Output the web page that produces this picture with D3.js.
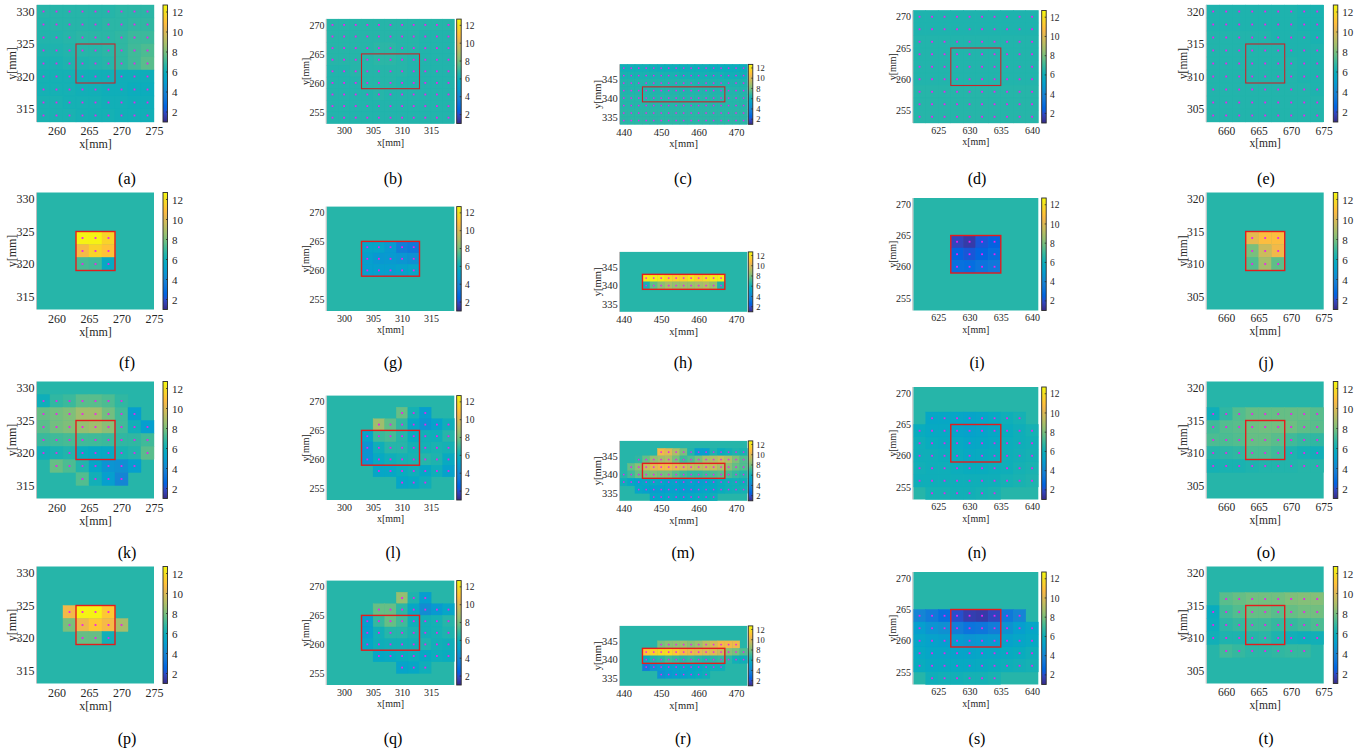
<!DOCTYPE html>
<html>
<head>
<meta charset="utf-8">
<script src="https://cdn.jsdelivr.net/npm/d3@7/dist/d3.min.js"></script>
<style>
  html,body{margin:0;padding:0;background:#ffffff;}
  svg{display:block;}
  svg text{font-family:'Liberation Serif','Times New Roman',serif;}
</style>
</head>
<body>
<svg id="chart" width="1369" height="753"></svg>
<script>
// ================= DATA =================
const panelLabels = ["(a)","(b)","(c)","(d)","(e)","(f)","(g)","(h)","(i)","(j)",
                     "(k)","(l)","(m)","(n)","(o)","(p)","(q)","(r)","(s)","(t)"];
const colorDomain = [1, 12.7];
const colorbarTicks = [2, 4, 6, 8, 10, 12];
const fillLevel = 6.6;               // value shown where no measurement exists
const axisXLabel = "x[mm]";
const axisYLabel = "y[mm]";

// axis extents (mm) for the five columns
const xDomains = [[257, 275], [297, 319], [439, 473], [621, 641], [657, 675]];
const yDomains = [[313, 331], [253, 271], [333, 349], [253, 271], [303, 321]];
const xTickValues = [[260, 265, 270, 275], [300, 305, 310, 315], [440, 450, 460, 470], [625, 630, 635, 640], [660, 665, 670, 675]];
const yTickValues = [[315, 320, 325, 330], [255, 260, 265, 270], [335, 340, 345], [255, 260, 265, 270], [305, 310, 315, 320]];
// red target rectangles: [x0, x1, y0, y1] in mm
const targetRects = [[263, 269, 319, 325], [303, 313, 259, 265], [445, 467, 339, 343], [627, 635, 259, 265], [663, 669, 309, 315]];
const cellSize = 2; // mm

// each panel: rows of [y centre, first x centre, values...]
const panelA = [
  [330, 258, [6.6,6.6,6.6,6.6,6.6,6.6,6.7,6.7,6.7]],
  [328, 258, [6.5,6.6,6.6,6.6,6.6,6.7,6.7,6.8,6.8]],
  [326, 258, [6.5,6.5,6.6,6.7,6.7,6.7,6.8,7.0,7.0]],
  [324, 258, [6.4,6.4,6.5,6.6,6.6,6.7,6.8,7.1,7.3]],
  [322, 258, [6.3,6.3,6.4,6.4,6.5,6.6,6.8,7.1,7.5]],
  [320, 258, [6.2,6.2,6.2,6.1,6.1,6.1,6.0,6.0,6.0]],
  [318, 258, [6.2,6.2,6.2,6.1,6.1,6.0,6.0,5.9,5.9]],
  [316, 258, [6.3,6.3,6.2,6.2,6.2,6.1,6.1,6.0,6.0]],
  [314, 258, [6.3,6.3,6.3,6.2,6.2,6.2,6.1,6.1,6.1]]
];
const panelB = [
  [270, 298, [6.6,6.6,6.6,6.6,6.6,6.6,6.6,6.6,6.6,6.6,6.6]],
  [268, 298, [6.6,6.6,6.6,6.6,6.6,6.6,6.6,6.6,6.5,6.5,6.5]],
  [266, 298, [6.6,6.6,6.6,6.6,6.7,6.7,6.6,6.6,6.5,6.5,6.5]],
  [264, 298, [6.6,6.6,6.6,6.6,6.7,6.7,6.6,6.5,6.5,6.5,6.5]],
  [262, 298, [6.5,6.5,6.6,6.6,6.6,6.6,6.6,6.5,6.5,6.5,6.5]],
  [260, 298, [6.5,6.5,6.5,6.6,6.6,6.6,6.5,6.5,6.5,6.5,6.5]],
  [258, 298, [6.5,6.5,6.5,6.5,6.6,6.5,6.5,6.5,6.5,6.5,6.5]],
  [256, 298, [6.5,6.5,6.5,6.5,6.5,6.5,6.5,6.5,6.5,6.5,6.5]],
  [254, 298, [6.5,6.5,6.5,6.5,6.5,6.5,6.5,6.5,6.5,6.5,6.5]]
];
const panelC = [
  [348, 440, [6.1,6.1,6.1,6.1,6.1,6.0,6.0,6.0,6.0,6.0,6.0,6.0,5.9,5.9,5.9,5.9,5.9]],
  [346, 440, [6.3,6.3,6.3,6.3,6.3,6.3,6.3,6.3,6.2,6.2,6.2,6.2,6.2,6.2,6.1,6.1,6.1]],
  [344, 440, [6.5,6.5,6.5,6.5,6.5,6.5,6.5,6.5,6.5,6.5,6.4,6.4,6.4,6.4,6.4,6.4,6.4]],
  [342, 440, [6.5,6.5,6.5,6.5,6.5,6.5,6.5,6.5,6.5,6.5,6.5,6.5,6.5,6.5,6.5,6.5,6.5]],
  [340, 440, [6.6,6.6,6.6,6.6,6.6,6.6,6.6,6.6,6.6,6.6,6.6,6.6,6.6,6.6,6.6,6.6,6.6]],
  [338, 440, [6.6,6.6,6.6,6.6,6.6,6.6,6.6,6.6,6.6,6.6,6.6,6.6,6.6,6.6,6.6,6.6,6.6]],
  [336, 440, [6.7,6.7,6.7,6.7,6.7,6.7,6.7,6.7,6.7,6.7,6.7,6.7,6.7,6.7,6.7,6.7,6.7]],
  [334, 440, [6.7,6.7,6.7,6.7,6.7,6.7,6.7,6.7,6.7,6.7,6.7,6.7,6.7,6.7,6.7,6.7,6.7]]
];
const panelD = [
  [270, 622, [6.4,6.4,6.4,6.4,6.4,6.4,6.4,6.4,6.4,6.4]],
  [268, 622, [6.4,6.4,6.4,6.4,6.4,6.4,6.4,6.4,6.4,6.4]],
  [266, 622, [6.5,6.5,6.5,6.5,6.5,6.5,6.5,6.5,6.5,6.5]],
  [264, 622, [6.5,6.5,6.5,6.5,6.5,6.5,6.5,6.5,6.5,6.5]],
  [262, 622, [6.5,6.5,6.5,6.5,6.5,6.5,6.5,6.5,6.5,6.5]],
  [260, 622, [6.5,6.5,6.5,6.5,6.5,6.5,6.5,6.5,6.5,6.5]],
  [258, 622, [6.6,6.6,6.6,6.6,6.6,6.6,6.6,6.6,6.6,6.6]],
  [256, 622, [6.6,6.6,6.6,6.6,6.6,6.6,6.6,6.6,6.6,6.6]],
  [254, 622, [6.6,6.6,6.6,6.6,6.6,6.6,6.6,6.6,6.6,6.6]]
];
const panelE = [
  [320, 658, [6.4,6.4,6.4,6.4,6.4,6.4,6.4,6.3,6.3]],
  [318, 658, [6.4,6.4,6.4,6.4,6.4,6.4,6.4,6.3,6.3]],
  [316, 658, [6.5,6.5,6.5,6.5,6.5,6.4,6.4,6.4,6.3]],
  [314, 658, [6.5,6.5,6.5,6.5,6.5,6.5,6.4,6.4,6.4]],
  [312, 658, [6.5,6.5,6.5,6.5,6.5,6.5,6.5,6.4,6.4]],
  [310, 658, [6.5,6.5,6.5,6.5,6.5,6.5,6.5,6.4,6.4]],
  [308, 658, [6.5,6.5,6.5,6.5,6.5,6.5,6.5,6.5,6.4]],
  [306, 658, [6.5,6.5,6.5,6.5,6.5,6.5,6.5,6.5,6.5]],
  [304, 658, [6.5,6.5,6.5,6.5,6.5,6.5,6.5,6.5,6.5]]
];
const panelF = [
  [324, 264, [12.5,12.5,11.6]],
  [322, 264, [10.6,11.6,11.0]],
  [320, 264, [7.2,7.1,5.6]]
];
const panelG = [
  [264, 304, [5.3,5.3,4.8,3.6,3.4]],
  [262, 304, [5.0,4.7,4.8,4.6,4.4]],
  [260, 304, [5.0,5.0,5.0,5.2,5.4]]
];
const panelH = [
  [342, 446, [12.3,12.4,12.3,11.8,11.5,11.6,12.2,11.4,11.9,12.3,12.4]],
  [340, 446, [6.2,7.6,8.3,8.8,8.5,8.7,8.6,8.8,9.0,8.5,6.4]]
];
const panelI = [
  [264, 628, [1.8,1.5,2.2,2.5]],
  [262, 628, [2.5,2.2,2.6,2.9]],
  [260, 628, [3.0,2.9,3.2,3.4]]
];
const panelJ = [
  [314, 664, [10.2,10.8,10.8]],
  [312, 664, [8.0,9.6,10.5]],
  [310, 664, [7.4,8.8,7.6]]
];
const panelK = [
  [328, 258, [6.0,6.8,7.0,7.5,7.5,7.3,6.8]],
  [326, 258, [7.7,7.9,8.1,8.7,8.7,7.9,7.1,5.0]],
  [324, 258, [7.5,7.9,8.1,8.5,8.7,8.3,7.1,6.1,5.0]],
  [322, 258, [7.0,7.1,7.2,7.1,7.1,7.0,6.8,6.8,7.1]],
  [320, 258, [6.1,6.3,6.5,5.8,5.6,5.6,6.3,6.5,7.5]],
  [318, 260, [7.7,7.3,6.5,5.4,4.6,4.4,5.0]],
  [316, 264, [7.4,6.1,5.0,4.0]]
];
const panelL = [
  [268, 310, [7.7,6.2,5.0]],
  [266, 306, [8.7,7.6,6.8,5.5,4.6,5.2,6.0]],
  [264, 304, [5.3,7.0,7.2,6.6,5.8,6.1,6.0,6.6]],
  [262, 304, [4.6,6.0,6.6,6.6,6.2,6.2,6.3,6.2]],
  [260, 304, [4.6,5.6,6.0,6.2,6.3,6.6,6.4,5.7]],
  [258, 306, [5.4,5.5,5.8,6.0,5.5,6.0,5.2]],
  [256, 310, [5.4,5.6,6.0]]
];
const panelM = [
  [346, 450, [10.5,10.0,9.0,8.0,6.5,5.0,5.0,6.4,5.8,6.1,6.4,6.3]],
  [344, 444, [6.8,7.7,8.5,8.8,9.0,8.0,7.1,7.4,8.0,8.8,9.0,9.5,9.0,8.1,7.4]],
  [342, 442, [7.7,8.3,9.5,10.2,10.5,10.5,10.2,9.8,9.5,9.3,9.5,9.5,9.0,8.3,7.7,7.4]],
  [340, 440, [6.6,7.1,7.7,8.0,8.2,8.0,8.0,7.5,7.1,6.9,6.9,7.1,7.3,7.5,7.2,6.9,6.6]],
  [338, 440, [6.0,5.5,5.2,5.4,5.6,5.4,5.2,5.3,5.0,5.2,5.0,5.2,5.5,5.8,6.0,6.1,6.0]],
  [336, 444, [5.4,5.2,5.0,5.0,5.1,5.2,5.0,5.0,5.2,5.4,5.5,5.8,6.0,6.1,6.2]],
  [334, 448, [5.4,5.4,5.6,5.5,5.4,5.6,5.8,5.8,6.0]]
];
const panelN = [
  [266, 624, [5.5,5.5,5.4,5.3,5.4,5.6,6.0,6.2]],
  [264, 622, [5.8,5.6,5.6,5.3,5.2,5.3,5.5,5.8,6.0,6.2]],
  [262, 622, [6.0,5.8,5.7,5.6,5.4,5.5,5.6,5.9,6.0,6.1]],
  [260, 622, [6.0,6.0,5.9,5.8,5.6,5.7,5.8,6.0,6.1,6.2]],
  [258, 622, [6.1,6.0,6.0,5.9,5.8,5.8,5.9,6.0,6.2,6.3]],
  [256, 622, [6.0,6.0,6.0,6.0,6.0,6.0,6.0,6.2,6.3,6.4]],
  [254, 624, [6.2,6.2,6.1,6.1,6.2,6.3]]
];
const panelO = [
  [316, 658, [6.0,6.8,7.4,7.7,7.7,7.7,7.7,7.7,7.5]],
  [314, 658, [7.1,7.4,7.5,7.8,7.9,7.9,7.8,7.6,7.5]],
  [312, 658, [7.3,7.3,7.4,7.7,7.7,7.5,7.1,6.9,6.8]],
  [310, 658, [6.6,6.7,6.8,7.3,7.3,7.1,6.4,6.2,6.1]],
  [308, 658, [6.2,6.3,6.3,6.4,6.5,6.5,6.5,6.6,6.6]]
];
const panelP = [
  [324, 262, [10.5,12.5,12.5,11.2]],
  [322, 262, [8.0,10.4,11.2,10.6,8.8]],
  [320, 264, [7.7,7.7,6.1]]
];
const panelQ = [
  [268, 310, [8.5,6.4,5.0]],
  [266, 306, [7.7,7.7,6.7,5.5,4.3,4.8,5.4]],
  [264, 304, [5.0,6.9,7.7,7.1,6.0,6.1,6.2,6.6]],
  [262, 304, [5.0,6.1,6.6,6.6,6.3,6.1,6.2,6.4]],
  [260, 304, [5.4,6.0,6.1,6.1,6.1,6.4,6.1,6.0]],
  [258, 306, [5.5,5.6,5.8,5.9,5.6,5.9,5.8]],
  [256, 310, [5.3,5.5,6.0]]
];
const panelR = [
  [344, 450, [8.0,8.3,8.4,8.6,8.3,8.6,9.3,9.8,10.5,10.5,10.4]],
  [342, 446, [11.0,11.5,11.8,11.8,11.2,10.6,10.4,10.2,10.0,10.0,9.6,8.3,8.0,7.4]],
  [340, 446, [5.8,6.5,6.7,7.1,6.9,6.7,6.9,6.7,6.5,6.7,6.9,6.7,6.1,6.0]],
  [338, 446, [3.5,4.4,4.8,5.0,5.2,5.4,5.3,5.5,5.8,6.0,6.0]],
  [336, 450, [4.4,4.8,5.0,5.2,5.5,5.8,6.0]]
];
const panelS = [
  [264, 622, [4.0,3.5,3.0,2.0,1.6,1.5,1.8,3.4,4.0]],
  [262, 622, [5.0,4.6,4.4,3.6,3.2,3.3,3.6,4.5,5.0,5.4]],
  [260, 622, [5.4,5.2,5.0,4.8,4.6,4.7,4.8,5.2,5.4,5.6]],
  [258, 622, [5.6,5.4,5.4,5.3,5.3,5.4,5.5,5.7,5.8,6.0]],
  [256, 622, [5.8,5.6,5.6,5.6,5.6,5.7,5.8,6.0,6.1,6.2]],
  [254, 624, [6.0,6.1,6.1,6.2,6.2,6.3]]
];
const panelT = [
  [316, 660, [7.5,7.7,7.9,7.9,7.9,8.1,8.2,8.2]],
  [314, 658, [5.8,7.1,7.4,7.7,7.7,7.5,7.7,7.9,7.9]],
  [312, 658, [5.9,6.7,6.9,7.1,7.1,6.9,6.9,7.1,7.3]],
  [310, 658, [6.1,6.4,6.4,6.6,6.7,6.4,6.1,6.0,6.1]],
  [308, 660, [7.1,6.9,6.7,6.7,6.8,6.9,6.9]]
];
const panels = [panelA, panelB, panelC, panelD, panelE,
                panelF, panelG, panelH, panelI, panelJ,
                panelK, panelL, panelM, panelN, panelO,
                panelP, panelQ, panelR, panelS, panelT];

// parula colormap (64 entries)
const parulaTable = [
[0.2081,0.1663,0.5292],[0.2116,0.1898,0.5777],[0.2123,0.2138,0.6270],[0.2081,0.2386,0.6771],
[0.1959,0.2645,0.7279],[0.1707,0.2919,0.7792],[0.1253,0.3242,0.8303],[0.0591,0.3598,0.8683],
[0.0117,0.3875,0.8820],[0.0060,0.4086,0.8828],[0.0165,0.4266,0.8786],[0.0329,0.4430,0.8720],
[0.0498,0.4586,0.8641],[0.0629,0.4737,0.8554],[0.0723,0.4887,0.8467],[0.0779,0.5040,0.8384],
[0.0793,0.5200,0.8312],[0.0749,0.5375,0.8263],[0.0641,0.5570,0.8240],[0.0488,0.5772,0.8228],
[0.0343,0.5966,0.8199],[0.0265,0.6137,0.8135],[0.0239,0.6287,0.8038],[0.0231,0.6418,0.7913],
[0.0228,0.6535,0.7768],[0.0267,0.6642,0.7607],[0.0384,0.6743,0.7436],[0.0590,0.6838,0.7254],
[0.0843,0.6928,0.7062],[0.1133,0.7015,0.6859],[0.1453,0.7098,0.6646],[0.1801,0.7177,0.6424],
[0.2178,0.7250,0.6193],[0.2586,0.7317,0.5954],[0.3022,0.7376,0.5712],[0.3482,0.7424,0.5473],
[0.3953,0.7459,0.5244],[0.4420,0.7481,0.5033],[0.4871,0.7491,0.4840],[0.5300,0.7491,0.4661],
[0.5709,0.7485,0.4494],[0.6099,0.7473,0.4337],[0.6473,0.7456,0.4188],[0.6834,0.7435,0.4044],
[0.7184,0.7411,0.3905],[0.7525,0.7384,0.3768],[0.7858,0.7356,0.3633],[0.8185,0.7327,0.3498],
[0.8507,0.7299,0.3360],[0.8824,0.7274,0.3217],[0.9139,0.7258,0.3063],[0.9450,0.7261,0.2886],
[0.9739,0.7314,0.2666],[0.9938,0.7455,0.2403],[0.9990,0.7653,0.2164],[0.9955,0.7861,0.1967],
[0.9880,0.8066,0.1794],[0.9789,0.8271,0.1633],[0.9697,0.8481,0.1475],[0.9626,0.8705,0.1309],
[0.9589,0.8949,0.1132],[0.9598,0.9218,0.0948],[0.9661,0.9514,0.0755],[0.9763,0.9831,0.0538]
];

// ================= LAYOUT =================
const boxHeight = 117;
const layout = [
  {boxLeft: 33,     boxW: 125,   cbX: 163,    capX: 127,  dy: 0,   font: 12,   cbFont: 11},
  {boxLeft: 326.7,  boxW: 127.6, cbX: 456.7,  capX: 393,  dy: 1.5, font: 10,   cbFont: 9.5},
  {boxLeft: 620,    boxW: 127.3, cbX: 748.3,  capX: 683,  dy: 2.3, font: 10.5, cbFont: 8.5},
  {boxLeft: 913.3,  boxW: 125,   cbX: 1041.7, capX: 977,  dy: 1,   font: 10,   cbFont: 9.5},
  {boxLeft: 1202.7, boxW: 125,   cbX: 1333.3, capX: 1266, dy: 0,   font: 11.5, cbFont: 11}
];
const rowBottoms = [122, 309.5, 498.5, 683.5];
const captionY = [178, 362, 552, 738];
const textColor = "#262626";
const serif = "'Liberation Serif','Times New Roman',serif";

// ================= DRAW =================
const svg = d3.select("#chart");
const nStops = parulaTable.length;
const toRgb = c => d3.rgb(c[0] * 255, c[1] * 255, c[2] * 255);
const color = d3.scaleLinear()
  .domain(d3.range(nStops).map(i => colorDomain[0] + (colorDomain[1] - colorDomain[0]) * i / (nStops - 1)))
  .range(parulaTable.map(toRgb))
  .interpolate(d3.interpolateRgb)
  .clamp(true);

const defs = svg.append("defs");
const grad = defs.append("linearGradient").attr("id", "parulaGrad")
  .attr("x1", 0).attr("y1", 1).attr("x2", 0).attr("y2", 0);
parulaTable.forEach((c, i) => grad.append("stop")
  .attr("offset", i / (nStops - 1)).attr("stop-color", toRgb(c).formatHex()));

panels.forEach((data, idx) => {
  const row = Math.floor(idx / 5), col = idx % 5;
  const L = layout[col];
  const xd = xDomains[col], yd = yDomains[col];
  const s = Math.min(L.boxW / (xd[1] - xd[0]), boxHeight / (yd[1] - yd[0]));
  const w = s * (xd[1] - xd[0]), h = s * (yd[1] - yd[0]);
  const left = L.boxLeft + (L.boxW - w) / 2;
  const bottom = rowBottoms[row] + L.dy;
  const top = bottom - h;
  const x = d3.scaleLinear().domain(xd).range([left, left + w]);
  const y = d3.scaleLinear().domain(yd).range([bottom, top]);
  const f = L.font;

  const g = svg.append("g");

  // background fill
  g.append("rect").attr("x", left).attr("y", top).attr("width", w).attr("height", h)
    .attr("fill", color(fillLevel));

  // cells
  const cells = [];
  data.forEach(([cy, x0, vals]) => vals.forEach((v, k) => cells.push({cx: x0 + cellSize * k, cy, v})));
  g.append("g").selectAll("rect").data(cells).join("rect")
    .attr("x", d => x(d.cx - cellSize / 2))
    .attr("y", d => y(d.cy + cellSize / 2))
    .attr("width", d => x(d.cx + cellSize / 2) - x(d.cx - cellSize / 2))
    .attr("height", d => y(d.cy - cellSize / 2) - y(d.cy + cellSize / 2))
    .attr("fill", d => color(d.v))
    .attr("stroke", d => color(d.v))
    .attr("stroke-width", 0.4);

  // measurement points
  const ds = col === 2 ? 1.5 : 1.8;
  g.append("g").selectAll("rect").data(cells).join("rect")
    .attr("x", d => x(d.cx) - ds / 2)
    .attr("y", d => y(d.cy) - ds / 2)
    .attr("width", ds).attr("height", ds)
    .attr("fill", "#f01cf0");

  // target rectangle
  const r = targetRects[col];
  g.append("rect")
    .attr("x", x(r[0])).attr("y", y(r[3]))
    .attr("width", x(r[1]) - x(r[0])).attr("height", y(r[2]) - y(r[3]))
    .attr("fill", "none")
    .attr("stroke", row === 0 ? "#c8242a" : "#e41c1c")
    .attr("stroke-width", row === 0 ? 1.1 : 1.4);

  // y axis spine
  g.append("line").attr("x1", left - 0.5).attr("x2", left - 0.5).attr("y1", top).attr("y2", bottom)
    .attr("stroke", "#bdbdbd").attr("stroke-width", 1);

  // axes
  const xAxis = g.append("g").attr("transform", `translate(0,${bottom})`)
    .call(d3.axisBottom(x).tickValues(xTickValues[col]).tickSize(0).tickPadding(f * 0.38).tickFormat(d3.format("d")));
  const yAxis = g.append("g").attr("transform", `translate(${left},0)`)
    .call(d3.axisLeft(y).tickValues(yTickValues[col]).tickSize(0).tickPadding(f * 0.22).tickFormat(d3.format("d")));
  [xAxis, yAxis].forEach(a => {
    a.attr("font-family", null);
    a.select(".domain").remove();
    a.selectAll("text").style("font-family", serif)
      .attr("font-size", f).attr("fill", textColor);
  });

  // axis titles
  g.append("text").attr("x", left + w / 2).attr("y", bottom + f * 2.2)
    .attr("text-anchor", "middle").attr("font-size", f).attr("fill", textColor)
    .style("font-family", serif).text(axisXLabel);
  g.append("text")
    .attr("transform", `translate(${left - f * 2.1},${top + h / 2}) rotate(-90)`)
    .attr("text-anchor", "middle").attr("dominant-baseline", "central")
    .attr("font-size", f).attr("fill", textColor)
    .style("font-family", serif).text(axisYLabel);

  // colorbar
  const cbW = 4.5;
  const cb = d3.scaleLinear().domain(colorDomain).range([bottom, top]);
  g.append("rect").attr("x", L.cbX).attr("y", top).attr("width", cbW).attr("height", h)
    .attr("fill", "url(#parulaGrad)").attr("stroke", "#2a2a2a").attr("stroke-width", 0.9);
  const cbAxis = g.append("g").attr("transform", `translate(${L.cbX + cbW},0)`)
    .call(d3.axisRight(cb).tickValues(colorbarTicks).tickSize(0).tickPadding(L.cbFont * 0.4));
  cbAxis.attr("font-family", null);
  cbAxis.select(".domain").remove();
  cbAxis.selectAll("text").style("font-family", serif)
    .attr("font-size", L.cbFont).attr("fill", textColor);
  g.append("g").selectAll("line").data(colorbarTicks).join("line")
    .attr("x1", L.cbX + cbW - 1.5).attr("x2", L.cbX + cbW)
    .attr("y1", d => cb(d)).attr("y2", d => cb(d))
    .attr("stroke", "#2a2a2a").attr("stroke-width", 0.8);

  // caption
  g.append("text").attr("x", L.capX).attr("y", captionY[row] + 5.5)
    .attr("text-anchor", "middle").attr("font-size", 16).attr("fill", "#000")
    .style("font-family", serif).text(panelLabels[idx]);
});
</script>
</body>
</html>
